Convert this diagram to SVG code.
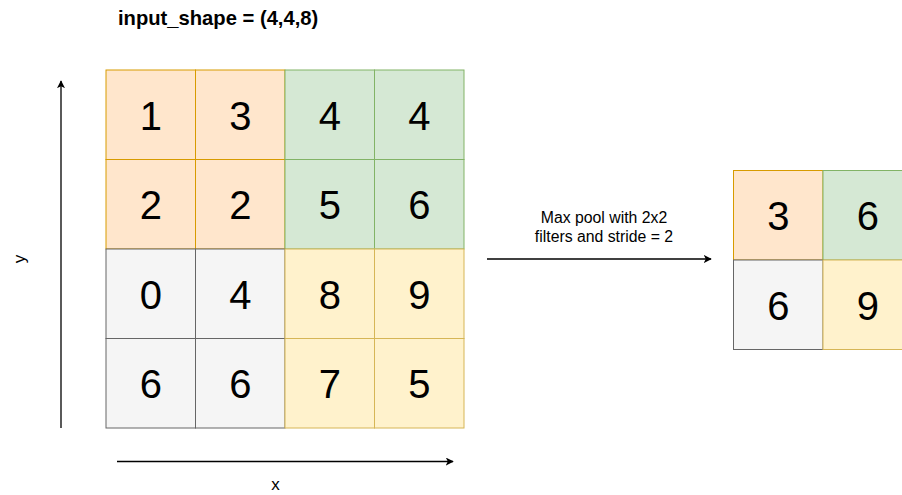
<svg xmlns="http://www.w3.org/2000/svg" width="902" height="495" viewBox="0 0 902 495">
<defs>
<style>
.o{fill:#ffe6cc;stroke:#d79b00}
.g{fill:#d5e8d4;stroke:#82b366}
.s{fill:#f5f5f5;stroke:#666666}
.y{fill:#fff2cc;stroke:#d6b656}
.n{font-family:"Liberation Sans",Arial,sans-serif;font-size:40px;text-anchor:middle;fill:#000}
.l{font-family:"Liberation Sans",Arial,sans-serif;font-size:15.8px;text-anchor:middle;fill:#000}
.c{stroke:#000;stroke-width:1.3;fill:none;marker-end:url(#ah)}
</style>
<marker id="ah" viewBox="0 0 10 10" refX="9" refY="5" markerWidth="8" markerHeight="8" markerUnits="userSpaceOnUse" orient="auto">
<path d="M0,0 L10,5 L0,10 L2.5,5 Z" fill="#000"/>
</marker>
</defs>
<rect width="902" height="495" fill="#fff"/>
<text x="118" y="25" font-family="Liberation Sans,Arial,sans-serif" font-size="20.2" font-weight="bold">input_shape = (4,4,8)</text>
<g id="input-grid">
<g id="c00"><rect class="o" x="106" y="70" width="89.5" height="89.5"/><text class="n" x="150.75" y="129.5">1</text></g>
<g id="c01"><rect class="o" x="195.5" y="70" width="89.5" height="89.5"/><text class="n" x="240.25" y="129.5">3</text></g>
<g id="c02"><rect class="g" x="285" y="70" width="89.5" height="89.5"/><text class="n" x="329.75" y="129.5">4</text></g>
<g id="c03"><rect class="g" x="374.5" y="70" width="89.5" height="89.5"/><text class="n" x="419.25" y="129.5">4</text></g>
<g id="c10"><rect class="o" x="106" y="159.5" width="89.5" height="89.5"/><text class="n" x="150.75" y="219">2</text></g>
<g id="c11"><rect class="o" x="195.5" y="159.5" width="89.5" height="89.5"/><text class="n" x="240.25" y="219">2</text></g>
<g id="c12"><rect class="g" x="285" y="159.5" width="89.5" height="89.5"/><text class="n" x="329.75" y="219">5</text></g>
<g id="c13"><rect class="g" x="374.5" y="159.5" width="89.5" height="89.5"/><text class="n" x="419.25" y="219">6</text></g>
<g id="c20"><rect class="s" x="106" y="249" width="89.5" height="89.5"/><text class="n" x="150.75" y="308.5">0</text></g>
<g id="c21"><rect class="s" x="195.5" y="249" width="89.5" height="89.5"/><text class="n" x="240.25" y="308.5">4</text></g>
<g id="c22"><rect class="y" x="285" y="249" width="89.5" height="89.5"/><text class="n" x="329.75" y="308.5">8</text></g>
<g id="c23"><rect class="y" x="374.5" y="249" width="89.5" height="89.5"/><text class="n" x="419.25" y="308.5">9</text></g>
<g id="c30"><rect class="s" x="106" y="338.5" width="89.5" height="89.5"/><text class="n" x="150.75" y="398">6</text></g>
<g id="c31"><rect class="s" x="195.5" y="338.5" width="89.5" height="89.5"/><text class="n" x="240.25" y="398">6</text></g>
<g id="c32"><rect class="y" x="285" y="338.5" width="89.5" height="89.5"/><text class="n" x="329.75" y="398">7</text></g>
<g id="c33"><rect class="y" x="374.5" y="338.5" width="89.5" height="89.5"/><text class="n" x="419.25" y="398">5</text></g>
</g>
<g id="output-grid">
<g id="o00"><rect class="o" x="733.5" y="170.5" width="89.5" height="89.5"/><text class="n" x="778.25" y="230">3</text></g>
<g id="o01"><rect class="g" x="823" y="170.5" width="89.5" height="89.5"/><text class="n" x="867.75" y="230">6</text></g>
<g id="o10"><rect class="s" x="733.5" y="260" width="89.5" height="89.5"/><text class="n" x="778.25" y="319.5">6</text></g>
<g id="o11"><rect class="y" x="823" y="260" width="89.5" height="89.5"/><text class="n" x="867.75" y="319.5">9</text></g>
</g>
<g id="connectors">
<line class="c" x1="61" y1="428" x2="61" y2="81"/>
<line class="c" x1="117" y1="461.5" x2="453" y2="461.5"/>
<line class="c" x1="487" y1="259" x2="711" y2="259"/>
</g>
<text class="l" x="604" y="222.5">Max pool with 2x2</text>
<text class="l" x="604" y="241.5">filters and stride = 2</text>
<text x="275.5" y="489.5" font-family="Liberation Sans,Arial,sans-serif" font-size="17" text-anchor="middle">x</text>
<text x="25" y="259" font-family="Liberation Sans,Arial,sans-serif" font-size="17" text-anchor="middle" transform="rotate(-90 25 259)">y</text>
</svg>
